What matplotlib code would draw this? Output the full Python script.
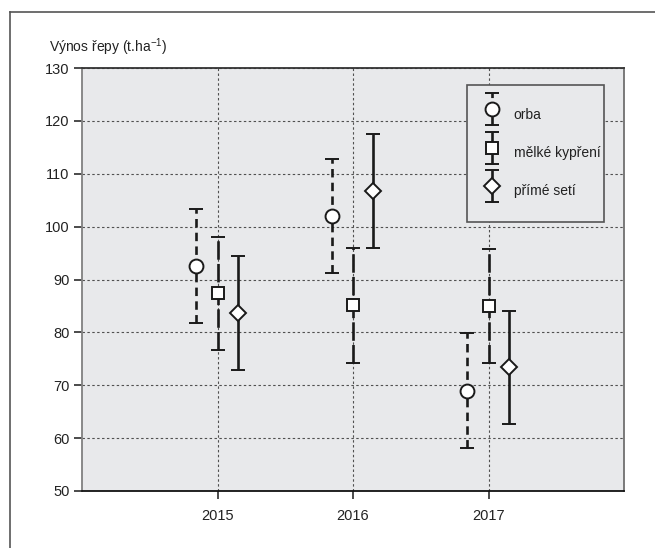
import matplotlib
matplotlib.use("Agg")
import matplotlib.pyplot as plt
from matplotlib.lines import Line2D
from matplotlib.legend_handler import HandlerErrorbar
import numpy as np

plt.rcParams['font.family'] = ['Liberation Sans', 'DejaVu Sans']
plt.rcParams['mathtext.fontset'] = 'custom'
plt.rcParams['mathtext.rm'] = 'Liberation Sans'
plt.rcParams['mathtext.it'] = 'Liberation Sans'

years = [2015, 2016, 2017]
series = ["orba", "mělké kypření", "přímé setí"]
orba_mean = [92.5, 102.0, 69.0]
orba_err = [10.8, 10.8, 10.8]
melke_mean = [87.4, 85.1, 85.0]
melke_err = [10.7, 10.8, 10.7]
prime_mean = [83.6, 106.8, 73.4]
prime_err = [10.8, 10.8, 10.7]
yticks = [50, 60, 70, 80, 90, 100, 110, 120, 130]
ylabel = r"Výnos řepy (t.ha$^{-1}$)"

W, H = 655, 548
fig = plt.figure(figsize=(W / 100, H / 100), dpi=100)
ax = fig.add_axes([82 / W, 1 - 491 / H, (624 - 82) / W, (491 - 68) / H])
ax.set_facecolor('#e8e9eb')

offsets = [-0.155, 0.0, 0.15]
styles = [
    dict(marker='o', ms=10.0, ls=(0, (3.2, 2.0))),
    dict(marker='s', ms=8.2, ls=(0, (7, 1.6))),
    dict(marker='D', ms=8.2, ls='-'),
]
means = [orba_mean, melke_mean, prime_mean]
errs = [orba_err, melke_err, prime_err]
x = np.array(years, dtype=float)
handles = []
for i in range(3):
    st = styles[i]
    c = ax.errorbar(x + offsets[i], means[i], yerr=errs[i], fmt=st['marker'],
                    ms=st['ms'], mfc='white', mec='#1a1a1a', mew=1.4,
                    ecolor='#1a1a1a', elinewidth=1.9, capsize=5.2, capthick=1.9,
                    zorder=3, label=series[i])
    for lc in c[2]:
        lc.set_linestyle(st['ls'])
    handles.append(c)

ax.set_xlim(2014, 2018)
ax.set_ylim(50, 130)
ax.set_xticks(years)
ax.set_xticklabels([str(y) for y in years])
ax.set_yticks(yticks)
ax.tick_params(axis='both', direction='out', length=6, width=1.1, color='#1a1a1a',
               labelsize=10.5, labelcolor='#222222')
ax.tick_params(axis='y', pad=3)
ax.tick_params(axis='x', pad=7)
ax.grid(True, color='#505050', linestyle=(0, (2.2, 2.2)), linewidth=0.8, zorder=1)
ax.set_axisbelow(True)
ax.spines['left'].set_color('#808080')
ax.spines['right'].set_color('#707070')
ax.spines['top'].set_color('#333333')
ax.spines['bottom'].set_color('#111111')
for s in ax.spines.values():
    s.set_linewidth(1.3)

leg = ax.legend(handles=handles, labels=series, loc='upper left',
                bbox_to_anchor=((467 - 82) / 542, (491 - 84.5) / 423, (603.5 - 467) / 542, 0.0),
                mode='expand', frameon=True, fancybox=False, framealpha=1,
                facecolor='#e8e9eb', edgecolor='#555555', fontsize=10,
                handleheight=3.0, handlelength=1.45, labelspacing=0.55,
                borderpad=1.1, handletextpad=0.8, borderaxespad=0, numpoints=1,
                handler_map={type(handles[0]): HandlerErrorbar(yerr_size=1.15)})
leg.get_frame().set_linewidth(1.2)
for t in leg.get_texts():
    t.set_color('#222222')

fig.text(49 / W, 1 - 47 / H, ylabel, fontsize=10, color='#222222',
         ha='left', va='center')

# outer frame
fig.add_artist(Line2D([10 / W, 10 / W], [0, 1 - 12 / H], transform=fig.transFigure,
                      color='#555555', lw=1.2))
fig.add_artist(Line2D([10 / W, 1.0], [1 - 12 / H, 1 - 12 / H], transform=fig.transFigure,
                      color='#555555', lw=1.2))

fig.savefig('out.png', dpi=100)
